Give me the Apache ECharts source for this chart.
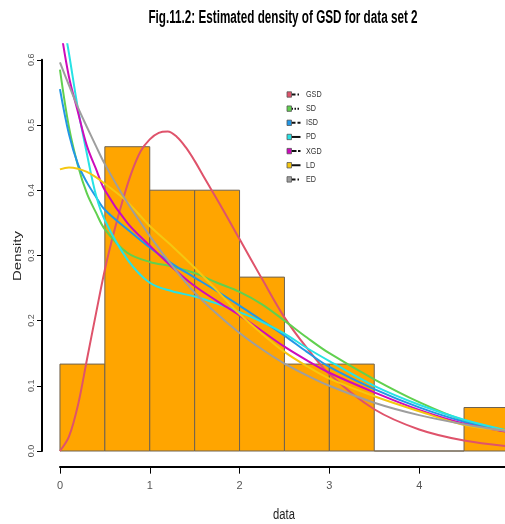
<!DOCTYPE html>
<html><head><meta charset="utf-8">
<script src="https://cdn.jsdelivr.net/npm/echarts@6/dist/echarts.min.js"></script>
<style>html,body{margin:0;padding:0;background:#fff}#c{width:505px;height:524px}</style>
</head><body><div id="c"></div>
<script>
// ---- data ----
const binEdges = [0, 0.5, 1, 1.5, 2, 2.5, 3, 3.5, 4, 4.5, 5];
const binDensity = [0.1333, 0.4667, 0.4, 0.4, 0.2667, 0.1333, 0.1333, 0, 0, 0.0667];
const gsdX = [0, 0.1, 0.2, 0.3, 0.4, 0.5, 0.6, 0.7, 0.8, 0.9, 1.0, 1.1, 1.2, 1.3, 1.4, 1.5, 1.6, 1.8, 2.0, 2.25, 2.5, 2.75, 3, 3.5, 4, 4.5, 5];
const gsdY = [0, 0.022, 0.07, 0.14, 0.21, 0.278, 0.335, 0.385, 0.428, 0.46, 0.478, 0.488, 0.49, 0.482, 0.466, 0.445, 0.421, 0.374, 0.325, 0.264, 0.205, 0.158, 0.118, 0.064, 0.033, 0.016, 0.007];
const curveX = [0, 0.1, 0.2, 0.3, 0.4, 0.5, 0.75, 1, 1.25, 1.5, 1.75, 2, 2.25, 2.5, 2.75, 3, 3.5, 4, 4.5, 5];
const sdY  = [0.585, 0.497, 0.438, 0.395, 0.366, 0.34, 0.304, 0.29, 0.283, 0.273, 0.258, 0.244, 0.225, 0.2, 0.174, 0.15, 0.11, 0.075, 0.047, 0.031];
const isdY = [0.555, 0.486, 0.44, 0.412, 0.39, 0.37, 0.34, 0.312, 0.287, 0.266, 0.245, 0.223, 0.2, 0.177, 0.152, 0.129, 0.095, 0.067, 0.045, 0.03];
const pdY  = [0.69, 0.61, 0.525, 0.456, 0.393, 0.354, 0.294, 0.258, 0.245, 0.237, 0.226, 0.213, 0.198, 0.18, 0.158, 0.138, 0.1, 0.071, 0.048, 0.031];
const xgdY = [0.655, 0.574, 0.52, 0.468, 0.433, 0.4, 0.35, 0.315, 0.282, 0.253, 0.23, 0.208, 0.184, 0.16, 0.139, 0.12, 0.09, 0.063, 0.042, 0.029];
const ldY  = [0.432, 0.435, 0.433, 0.428, 0.42, 0.41, 0.382, 0.345, 0.314, 0.281, 0.246, 0.21, 0.18, 0.152, 0.13, 0.111, 0.084, 0.061, 0.04, 0.031];
const edY  = [0.596, 0.561, 0.527, 0.497, 0.468, 0.44, 0.381, 0.33, 0.284, 0.243, 0.21, 0.181, 0.156, 0.134, 0.116, 0.1, 0.074, 0.055, 0.041, 0.03];
const seriesNames = ['GSD', 'SD', 'ISD', 'PD', 'XGD', 'LD', 'ED'];
const seriesXs = [gsdX, curveX, curveX, curveX, curveX, curveX, curveX];
const seriesValues = [gsdY, sdY, isdY, pdY, xgdY, ldY, edY];
const seriesColors = ['#DF536B', '#61D04F', '#2297E6', '#28E2E5', '#CD0BBC', '#F5C710', '#9E9E9E'];
const legendDash = [[4, 2, 1.5, 2], [1.5, 1.5], [4, 2], null, [5, 1.5], null, [4, 2, 1.5, 2]];
const xTicks = [0, 1, 2, 3, 4, 5];
const yTicks = [0, 0.1, 0.2, 0.3, 0.4, 0.5, 0.6];
const titleText = 'Fig.11.2: Estimated density of GSD for data set 2';
const xName = 'data';
const yName = 'Density';

// ---- chart ----
const chart = echarts.init(document.getElementById('c'), null, {renderer: 'canvas'});
const narrow = '"Liberation Sans Narrow", "Liberation Sans", Arial, sans-serif';

const series = [];
series.push({
  type: 'custom', xAxisIndex: 0, yAxisIndex: 0, z: 1,
  data: binDensity.map((d, i) => [binEdges[i], binEdges[i + 1], d]),
  encode: {x: [0, 1], y: 2},
  renderItem: (params, api) => {
    const p0 = api.coord([api.value(0), 0]);
    const p1 = api.coord([api.value(1), api.value(2)]);
    return {type: 'rect',
      shape: {x: p0[0], y: p1[1], width: p1[0] - p0[0], height: p0[1] - p1[1]},
      style: {fill: '#FFA500', stroke: '#6e6250', lineWidth: 1}};
  }
});
seriesNames.forEach((n, k) => {
  series.push({
    type: 'line', name: n, xAxisIndex: 0, yAxisIndex: 0, z: 3,
    data: seriesXs[k].map((x, i) => [x, seriesValues[k][i]]),
    smooth: 0.35, showSymbol: false, symbol: 'none', clip: true,
    lineStyle: {color: seriesColors[k], width: 2}, silent: true
  });
});

const graphics = [];
graphics.push({type: 'text', x: 283, y: 18, scaleX: 0.65,
  style: {text: titleText, font: 'bold 18px "Liberation Sans", Arial, sans-serif', fill: '#000',
    textAlign: 'center', textVerticalAlign: 'middle', align: 'center', verticalAlign: 'middle'}});
graphics.push({type: 'text', x: 284, y: 515, scaleX: 0.8,
  style: {text: xName, font: '14px "Liberation Sans", Arial, sans-serif', fill: '#222',
    textAlign: 'center', textVerticalAlign: 'middle', align: 'center', verticalAlign: 'middle'}});
graphics.push({type: 'text', x: 18, y: 256, rotation: Math.PI / 2, scaleY: 0.75,
  style: {text: yName, font: '15px "Liberation Sans", Arial, sans-serif', fill: '#222',
    textAlign: 'center', textVerticalAlign: 'middle', align: 'center', verticalAlign: 'middle'}});
seriesNames.forEach((n, k) => {
  const cy = 94.5 + k * 14.15;
  graphics.push({type: 'line', shape: {x1: 291.5, y1: cy, x2: 300.5, y2: cy},
    style: {stroke: '#111', lineWidth: 2, lineDash: legendDash[k] || null}});
  graphics.push({type: 'rect', shape: {x: 287, y: cy - 2.7, width: 4.5, height: 5.4},
    style: {fill: seriesColors[k], stroke: '#555', lineWidth: 0.8}});
  graphics.push({type: 'text', x: 306, y: cy, scaleX: 0.8,
    style: {text: n, font: '9px "Liberation Sans", Arial, sans-serif', fill: '#333',
      textAlign: 'left', textVerticalAlign: 'middle', align: 'left', verticalAlign: 'middle'}});
});

chart.setOption({
  animation: false,
  backgroundColor: '#fff',
  grid: [
    {left: 42, top: 44.15, width: 484.9, height: 422.5, outerBoundsMode: 'none', containLabel: false},
    {left: 60, top: 44.15, width: 449, height: 422.5, outerBoundsMode: 'none', containLabel: false},
    {left: 42, top: 59.8, width: 449, height: 391.2, outerBoundsMode: 'none', containLabel: false}
  ],
  xAxis: [
    {gridIndex: 0, type: 'value', min: -0.2, max: 5.2, show: false},
    {gridIndex: 1, type: 'value', min: 0, max: 5, interval: 1, position: 'bottom',
      axisLine: {show: true, lineStyle: {color: '#000', width: 2}},
      axisTick: {show: true, length: 7, lineStyle: {color: '#000', width: 1}},
      axisLabel: {show: true, margin: 14, fontSize: 11, fontFamily: narrow, color: '#555',
        formatter: v => xTicks.includes(v) ? String(v) : ''},
      splitLine: {show: false}},
    {gridIndex: 2, type: 'value', min: 0, max: 1, show: false}
  ],
  yAxis: [
    {gridIndex: 0, type: 'value', min: -0.024, max: 0.624, show: false},
    {gridIndex: 1, type: 'value', min: 0, max: 1, show: false},
    {gridIndex: 2, type: 'value', min: 0, max: 0.6, interval: 0.1, position: 'left',
      axisLine: {show: true, lineStyle: {color: '#000', width: 2}},
      axisTick: {show: true, length: 5, lineStyle: {color: '#000', width: 1}},
      axisLabel: {show: true, rotate: 90, margin: 6, fontSize: 9, fontFamily: '"Liberation Sans", Arial, sans-serif', color: '#555',
        formatter: v => yTicks.some(t => Math.abs(t - v) < 1e-9) ? v.toFixed(1) : ''},
      splitLine: {show: false}}
  ],
  series: series,
  graphic: graphics
});
</script></body></html>
